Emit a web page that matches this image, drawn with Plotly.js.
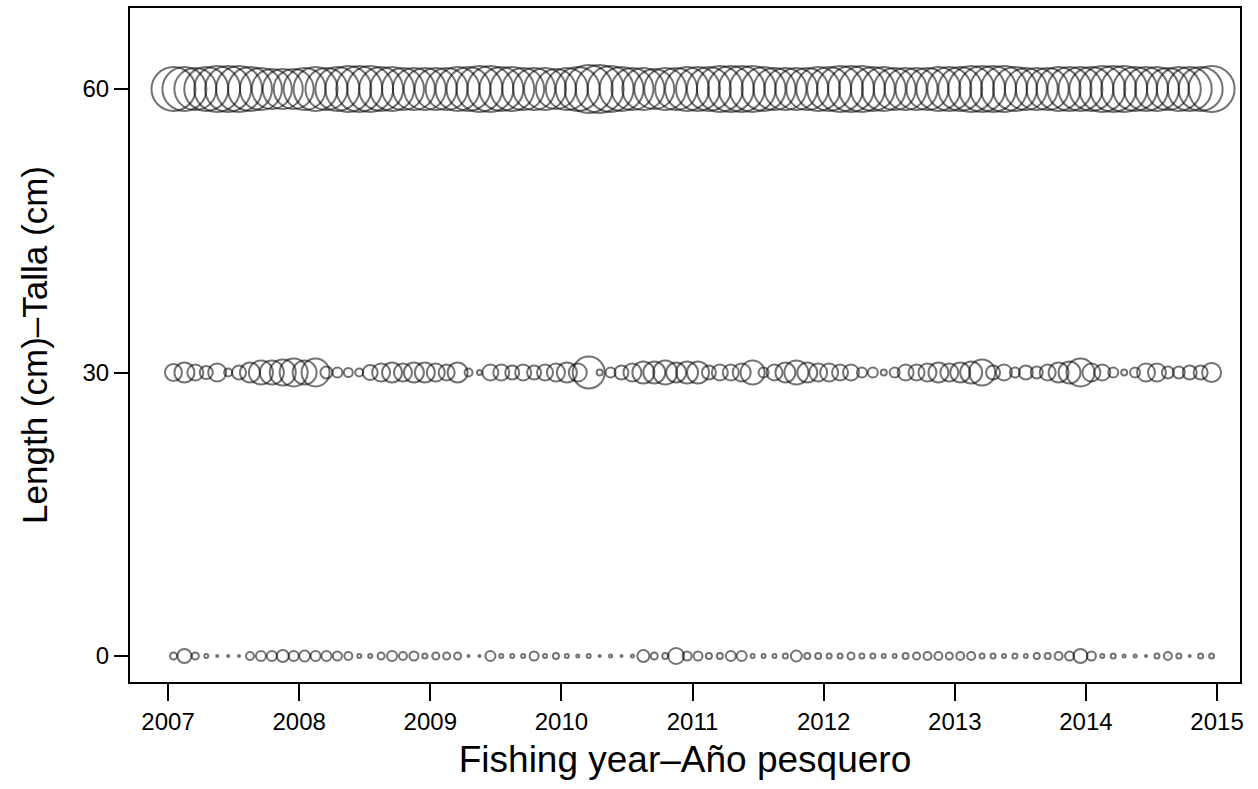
<!DOCTYPE html>
<html>
<head>
<meta charset="utf-8">
<script src="https://cdn.plot.ly/plotly-3.0.1.min.js"></script>
<style>html,body{margin:0;padding:0;background:#fff}#chart{width:1258px;height:789px}</style>
</head>
<body>
<div id="chart"></div>
<script>
// Fishing years and months (monthly samples plotted at mid-month)
const years = [2007, 2008, 2009, 2010, 2011, 2012, 2013, 2014];
const months = [1, 2, 3, 4, 5, 6, 7, 8, 9, 10, 11, 12];
const lengthRows = [60, 30, 0];
const xTicks = [2007, 2008, 2009, 2010, 2011, 2012, 2013, 2014, 2015];
const yTicks = [0, 30, 60];

// Bubble values (one per month)
const len60 = [
  44,44,42,44,46,46,46,44,42,40,40,40,
  42,44,42,44,46,46,46,44,44,42,42,42,
  42,42,44,44,46,46,44,44,42,42,42,40,
  42,44,48,48,46,44,42,42,40,42,42,44,
  44,44,46,46,46,46,44,42,42,42,42,44,
  44,46,46,46,44,44,42,42,42,42,44,44,
  44,46,46,46,46,44,42,42,42,44,44,44,
  44,46,46,46,44,44,44,42,44,44,44,46
];
const len30 = [
  17,20,16,13,18,8,14,20,24,24,26,28,
  24,28,12,10,9,8,15,18,20,18,20,20,
  18,16,20,8,5,16,16,14,16,14,16,18,
  20,18,32,6,10,14,18,22,22,24,20,22,
  22,14,16,16,18,24,10,16,20,24,20,18,
  18,16,16,10,10,6,10,16,16,18,20,18,
  20,22,26,14,16,10,14,12,16,20,22,28,
  18,16,10,6,10,18,18,12,12,14,14,19
];
const len0 = [
  7,14,7,4,2,2,2,8,10,10,12,10,
  11,10,10,9,8,4,4,7,10,8,9,5,
  7,7,7,2,2,10,4,4,4,9,4,6,
  4,3,4,2,3,2,3,12,7,6,16,9,
  9,6,6,10,10,4,4,4,5,11,6,6,
  5,5,7,5,5,4,4,6,7,8,8,7,
  8,8,5,5,4,5,4,6,6,8,9,14,
  9,4,5,3,3,2,5,8,5,2,5,5
];

const xMonths = [];
years.forEach(y => months.forEach(m => xMonths.push(y + (m - 0.5) / 12)));

const rowValues = [len60, len30, len0];
const traces = lengthRows.map((L, i) => ({
  type: 'scatter',
  mode: 'markers',
  x: xMonths,
  y: xMonths.map(() => L),
  marker: {
    symbol: 'circle',
    size: rowValues[i],
    sizemode: 'diameter',
    color: 'rgba(0,0,0,0)',
    line: {color: 'rgba(0,0,0,0.78)', width: 2}
  },
  hoverinfo: 'x+y',
  showlegend: false
}));

const ff = '"Liberation Sans", Arial, sans-serif';
const layout = {
  width: 1258, height: 789,
  margin: {l: 130, r: 18, t: 8, b: 107},
  paper_bgcolor: '#fff', plot_bgcolor: '#fff',
  font: {family: ff, color: '#000'},
  showlegend: false,
  xaxis: {
    range: [2006.71, 2015.175],
    tickvals: xTicks,
    ticktext: xTicks.map(String),
    ticks: 'outside', ticklen: 17, tickwidth: 2, tickcolor: '#000',
    showgrid: false, zeroline: false,
    showline: true, linecolor: '#000', linewidth: 2, mirror: true,
    tickfont: {size: 24, family: ff, color: '#000'},
    title: {text: 'Fishing year\u2013Año pesquero', font: {size: 37, family: ff, color: '#000'}, standoff: 12}
  },
  yaxis: {
    range: [-2.75, 68.57],
    tickvals: yTicks,
    ticktext: yTicks.map(String),
    ticks: 'outside', ticklen: 14, tickwidth: 2, tickcolor: '#000',
    showgrid: false, zeroline: false,
    showline: true, linecolor: '#000', linewidth: 2, mirror: true,
    tickfont: {size: 24, family: ff, color: '#000'},
    title: {text: 'Length (cm)\u2013Talla (cm)', font: {size: 35, family: ff, color: '#000'}, standoff: 24}
  }
};

Plotly.newPlot('chart', traces, layout, {displayModeBar: false, staticPlot: true});
</script>
</body>
</html>
